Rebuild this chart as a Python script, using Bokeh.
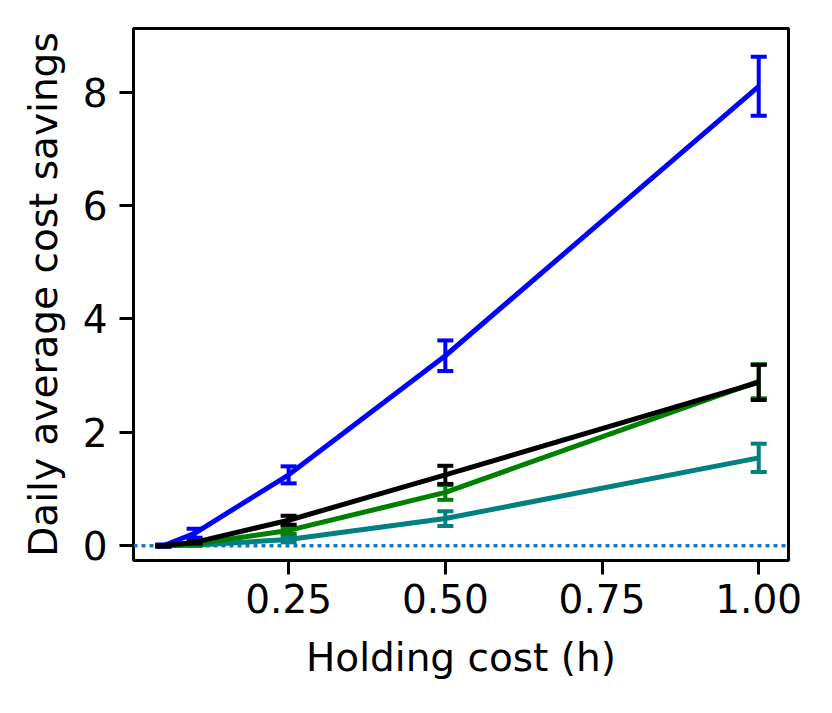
from bokeh.plotting import figure
from bokeh.models import Range1d, FixedTicker, Span
from bokeh.embed import file_html
from bokeh.resources import INLINE

# data
holding_cost = [0.05, 0.1, 0.25, 0.5, 1.0]

blue_mean = [0.0, 0.22, 1.25, 3.35, 8.10]
blue_err = [0.02, 0.08, 0.15, 0.27, 0.52]

teal_mean = [0.0, 0.01, 0.11, 0.48, 1.55]
teal_err = [0.005, 0.01, 0.05, 0.13, 0.25]

green_mean = [0.0, 0.03, 0.27, 0.94, 2.90]
green_err = [0.01, 0.02, 0.06, 0.13, 0.30]

black_mean = [0.0, 0.06, 0.45, 1.25, 2.88]
black_err = [0.01, 0.02, 0.08, 0.16, 0.31]

x_ticks = [0.25, 0.5, 0.75, 1.0]
x_tick_labels = ["0.25", "0.50", "0.75", "1.00"]
y_ticks = [0, 2, 4, 6, 8]

series = [
    (blue_mean, blue_err, "#0000ff"),
    (teal_mean, teal_err, "#008080"),
    (green_mean, green_err, "#008000"),
    (black_mean, black_err, "#000000"),
]

FONT = "DejaVu Sans"
FS = "39px"

W, H = 816, 697
p = figure(width=W, height=H, output_backend="svg", toolbar_location=None,
           x_range=Range1d(0.0025, 1.0475), y_range=Range1d(-0.26, 9.12),
           min_border_left=133, min_border_right=W - 788,
           min_border_top=28, min_border_bottom=H - 560)

p.background_fill_color = "white"
p.border_fill_color = "white"
p.outline_line_color = "black"
p.outline_line_width = 3
p.grid.visible = False

zero = Span(location=0, dimension="width", line_color="#1f77b4",
            line_dash="4 4", line_width=3.5, level="underlay")
p.add_layout(zero)

for mean, err, color in series:
    upper = [m + e for m, e in zip(mean, err)]
    lower = [m - e for m, e in zip(mean, err)]
    p.line(holding_cost, mean, line_color=color, line_width=5)
    p.segment(x0=holding_cost, y0=lower, x1=holding_cost, y1=upper,
              line_color=color, line_width=4)
    p.scatter(holding_cost, upper, marker="dash", size=16, line_color=color, line_width=4)
    p.scatter(holding_cost, lower, marker="dash", size=16, line_color=color, line_width=4)

p.xaxis.ticker = FixedTicker(ticks=x_ticks)
p.xaxis.major_label_overrides = {t: l for t, l in zip(x_ticks, x_tick_labels)}
p.yaxis.ticker = FixedTicker(ticks=y_ticks)

p.xaxis.axis_label = "Holding cost (h)"
p.yaxis.axis_label = "Daily average cost savings"

for ax in (p.xaxis[0], p.yaxis[0]):
    ax.axis_line_color = None
    ax.major_tick_in = 0
    ax.major_tick_out = 14
    ax.major_tick_line_width = 3
    ax.major_tick_line_color = "black"
    ax.minor_tick_line_color = None
    ax.major_label_text_font = FONT
    ax.major_label_text_font_size = FS
    ax.major_label_text_color = "black"
    ax.axis_label_text_font = FONT
    ax.axis_label_text_font_size = FS
    ax.axis_label_text_font_style = "normal"
    ax.axis_label_text_color = "black"

p.xaxis.major_label_standoff = 9
p.xaxis.axis_label_standoff = 19
p.yaxis.major_label_standoff = 12
p.yaxis.axis_label_standoff = 14

open("out.html", "w").write(file_html(p, INLINE))
